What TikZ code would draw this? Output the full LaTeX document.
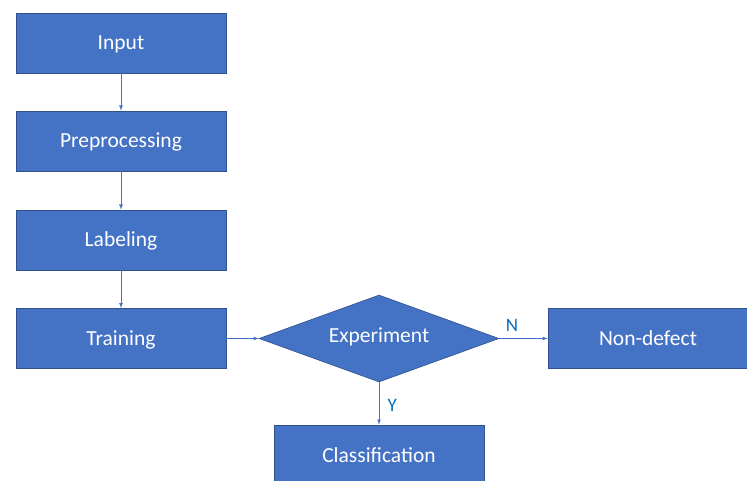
\documentclass[tikz,border=0pt]{standalone}
\usepackage{fontspec}
\setmainfont{Carlito}
\usepackage{xcolor}
\usetikzlibrary{arrows}
\usetikzlibrary{shapes.geometric}
\usetikzlibrary{math}

\definecolor{boxblue}{HTML}{4472C4}
\definecolor{edgeblue}{HTML}{2F528F}
\definecolor{labelblue}{HTML}{0070C0}

\tikzset{
  box/.style={rectangle, fill=boxblue, draw=edgeblue, line width=0.6pt,
    minimum width=210pt, minimum height=60pt, inner sep=0pt,
    text height=16pt, text depth=2pt,
    text=white, font=\fontsize{21.5}{25}\selectfont},
  decision/.style={diamond, fill=boxblue, draw=edgeblue, line width=0.6pt,
    minimum width=240pt, minimum height=87pt, aspect=2.76, inner sep=0pt,
    text height=16pt, text depth=2pt,
    text=white, font=\fontsize{21.5}{25}\selectfont},
  link/.style={-latex, draw=boxblue, line width=0.8pt},
  yn/.style={text=labelblue, font=\fontsize{19}{22}\selectfont}
}

\begin{document}
\begin{tikzpicture}[x=1pt, y=1pt]
\tikzmath{
\cx=121;
\dx=379;
\row=338.5;
}
\useasboundingbox (0,0) rectangle (747,-481);
\clip (0,0) rectangle (747,-481);

% left column
\node[box] (input) at (\cx,-43) {Input};
\node[box] (prep) at (\cx,-141) {Preprocessing};
\node[box] (label) at (\cx,-240) {Labeling};
\node[box] (train) at (\cx,-\row) {Training};

% decision
\node[decision] (exp) at (\dx,-\row) {\raisebox{3pt}{Experiment}};
\node[box] (nodef) at (653,-\row) {\hspace*{-10pt}Non-defect};
\node[box] (classif) at (\dx,-455) {Classification};

\draw[link] (input) -- (prep);
\draw[link] (prep) -- (label);
\draw[link] (label) -- (train);
\draw[link] (train) -- (exp);
\draw[link] (exp) -- (nodef) node[yn, pos=0.26, above=3pt] {N};
\draw[link] (exp) -- (classif) node[yn, pos=0.55, right=5pt] {Y};

\end{tikzpicture}
\end{document}
